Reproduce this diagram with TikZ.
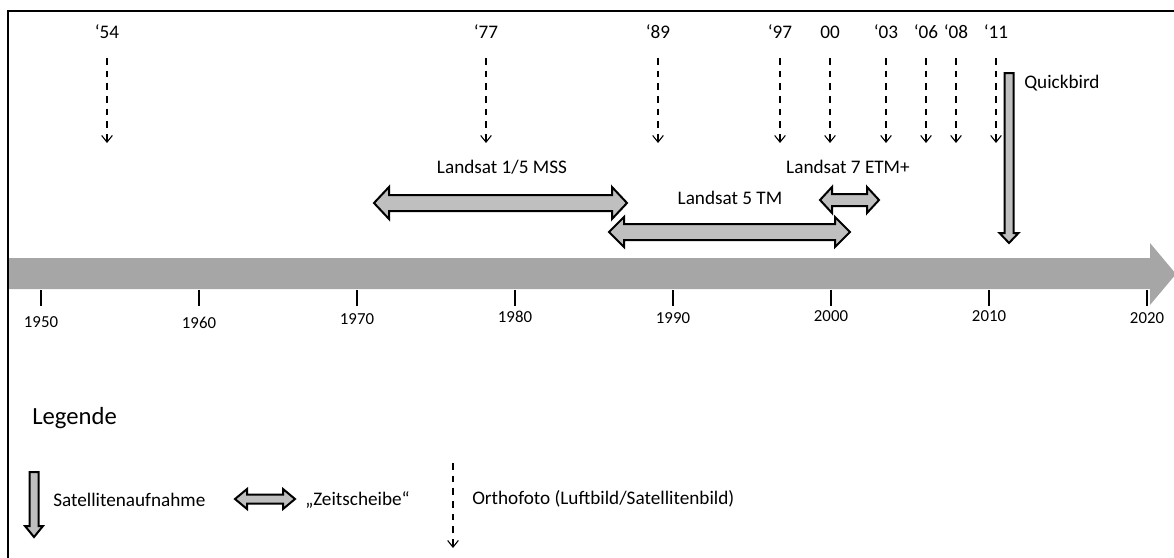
\documentclass[tikz,border=0pt]{standalone}
\usepackage{fontspec}
\setmainfont{Carlito}
\usetikzlibrary{arrows.meta}
\definecolor{achsgrau}{HTML}{A6A6A6}
\definecolor{pfeilgrau}{HTML}{BFBFBF}
\tikzset{
  ortho/.style={line width=0.8pt, dash pattern=on 5pt off 4.5pt, -{Straight Barb[length=5pt,width=8pt]}},
  block/.style={draw=black, fill=pfeilgrau, line width=1.5pt, line join=miter},
  txt/.style={font=\fontsize{14.4}{17}\selectfont, inner sep=0pt},
  jahr/.style={font=\fontsize{12.6}{15}\selectfont, inner sep=0pt},
  tick/.style={line width=1.6pt}
}
\begin{document}
\begin{tikzpicture}[x=0.75pt, y=-0.75pt]
  \useasboundingbox (0,0) rectangle (1174,557);
  % Zeitachse
  \fill[achsgrau] (8,258) -- (1150,258) -- (1150,243) -- (1176,274) -- (1150,305) -- (1150,289) -- (8,289) -- cycle;
  \foreach \j/\y in {1950/322, 1960/323, 1970/319, 1980/317, 1990/318, 2000/316, 2010/316, 2020/318} {
    \draw[tick] ({41+(\j-1950)*15.8},290) -- ++(0,16);
    \node[jahr] (y\j) at ({41+(\j-1950)*15.8},\y) {\j};
  }
  \draw[line width=1.5pt] (8,560) -- (8,11) -- (1180,11);
  % Orthofotos
  \foreach \x/\t/\n in {107/‘54/a, 486/‘77/b, 658/‘89/c, 780/‘97/d, 830/00/e, 886/‘03/f, 926/‘06/g, 956/‘08/h, 996/‘11/i} {
    \node[txt] (o\n) at (\x,32) {\t};
    \draw[ortho] (\x,58) -- (\x,143);
  }
  % Quickbird
  \filldraw[block] (1004.5,73) -- (1013.5,73) -- (1013.5,233) -- (1018.5,233) -- (1009,243) -- (999.5,233) -- (1004.5,233) -- cycle;
  \node[txt, anchor=west] (qb) at (1024,83) {Quickbird};
  % Zeitscheiben
  \filldraw[block] (374,203) -- (389,187) -- (389,195) -- (612,195) -- (612,187) -- (627,203) -- (612,219) -- (612,211) -- (389,211) -- (389,219) -- cycle;
  \filldraw[block] (609,232) -- (624,217) -- (624,224) -- (835,224) -- (835,217) -- (850,232) -- (835,247) -- (835,240) -- (624,240) -- (624,247) -- cycle;
  \filldraw[block] (820,200) -- (832,187) -- (832,194) -- (867,194) -- (867,187) -- (879,200) -- (867,213) -- (867,206) -- (832,206) -- (832,213) -- cycle;
  \node[txt] (mss) at (502,167) {Landsat 1/5 MSS};
  \node[txt] (tm) at (730,198) {Landsat 5 TM};
  \node[txt] (etm) at (848,167) {Landsat 7 ETM+};
  % Legende
  \node[txt, font=\fontsize{18.5}{22}\selectfont, anchor=west] (leg) at (32,418) {Legende};
  \filldraw[block] (29.5,472) -- (38.5,472) -- (38.5,526) -- (43,526) -- (34,537) -- (25,526) -- (29.5,526) -- cycle;
  \node[txt, anchor=west] (sat) at (53,500) {Satellitenaufnahme};
  \filldraw[block] (235,499) -- (247,489) -- (247,494.5) -- (283,494.5) -- (283,489) -- (295,499) -- (283,509) -- (283,503.5) -- (247,503.5) -- (247,509) -- cycle;
  \node[txt, anchor=west] (zs) at (305,500) {„Zeitscheibe“};
  \draw[ortho] (453,463) -- (453,548);
  \node[txt, anchor=west] (orth) at (472,499) {Orthofoto (Luftbild/Satellitenbild)};
\end{tikzpicture}
\end{document}
